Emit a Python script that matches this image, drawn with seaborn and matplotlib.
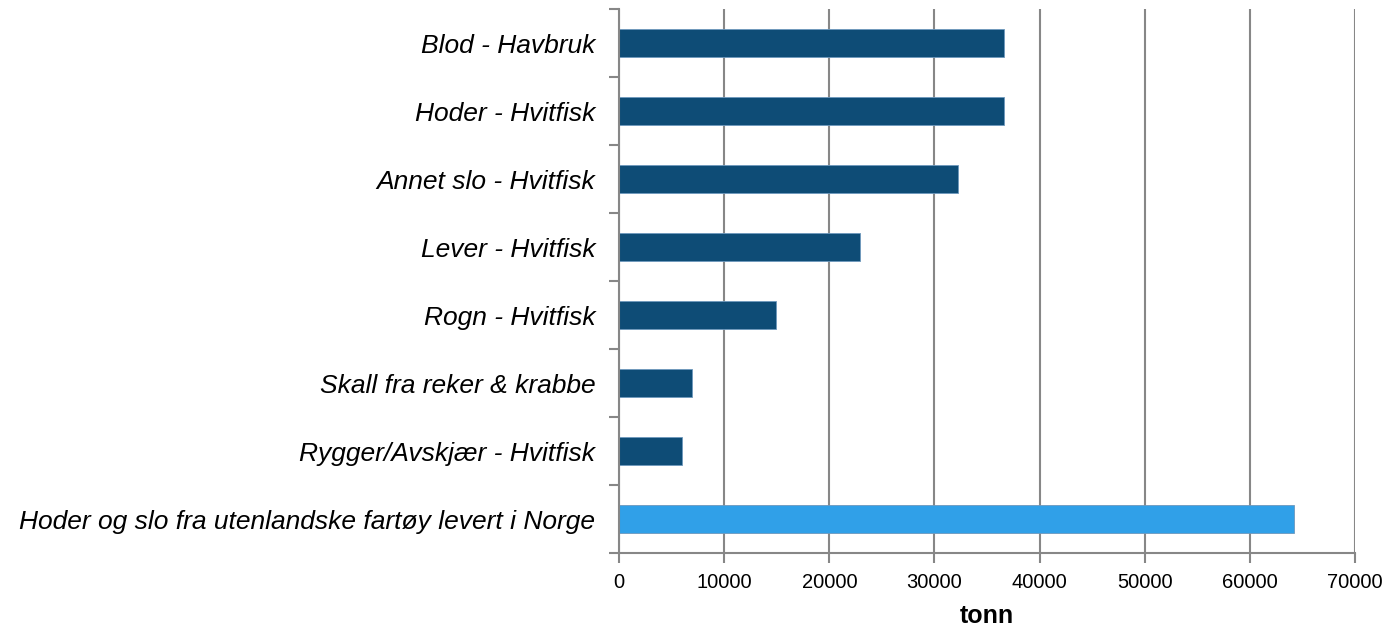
# horizontal bar chart, tonn per raw material category

import numpy as np
import pandas as pd
import matplotlib
matplotlib.use('Agg')
import matplotlib.pyplot as plt
import seaborn as sns

categories = ['Blod - Havbruk', 'Hoder - Hvitfisk', 'Annet slo - Hvitfisk',
              'Lever - Hvitfisk', 'Rogn - Hvitfisk', 'Skall fra reker & krabbe',
              'Rygger/Avskjær - Hvitfisk',
              'Hoder og slo fra utenlandske fartøy levert i Norge']
values = [36600, 36600, 32200, 22950, 14900, 6950, 5950, 64200]
barColors = ['#0e4c76'] * 7 + ['#30a0e8']
xTicks = [0, 10000, 20000, 30000, 40000, 50000, 60000, 70000]

sns.set_style('white')
plt.rcParams['font.family'] = ['Liberation Sans', 'DejaVu Sans']

df = pd.DataFrame({'Kategori': categories, 'Tonn': values})

fig = plt.figure(figsize=(13.89, 6.27), dpi=100)
ax = fig.add_axes([0.4457, 0.118, 0.5298, 0.8676])

gridColor = '#878787'

sns.barplot(data=df, x='Tonn', y='Kategori', hue='Kategori', palette=barColors,
            orient='h', width=0.41, legend=False, ax=ax, saturation=1,
            edgecolor='#6d98bd', linewidth=0.6)

ax.set_xlim(0, 70000)
ax.set_ylim(7.5, -0.5)
ax.set_xticks(xTicks)
ax.set_xticklabels([str(t) for t in xTicks], fontsize=14.5, color='black')
ax.xaxis.grid(True, color=gridColor, linewidth=1.5)
ax.set_axisbelow(True)

# category labels centred, ticks on the boundaries
ax.set_yticks(range(len(categories)))
ax.set_yticklabels(categories, fontsize=19, style='italic', color='black')
ax.set_yticks(np.arange(-0.5, len(categories), 1), minor=True)
ax.tick_params(axis='y', which='major', left=True, length=0, pad=17)
ax.tick_params(axis='y', which='minor', left=True, length=7, width=1.5, color=gridColor)
ax.tick_params(axis='x', bottom=True, length=7, width=1.5, color=gridColor, pad=7.5)

for s in ['top', 'right']:
    ax.spines[s].set_visible(False)
for s in ['left', 'bottom']:
    ax.spines[s].set_color(gridColor)
    ax.spines[s].set_linewidth(1.5)

ax.set_ylabel('')
ax.set_xlabel('tonn', fontsize=18, fontweight='bold', color='black', labelpad=8.5)

plt.savefig('out.png', dpi=100)
